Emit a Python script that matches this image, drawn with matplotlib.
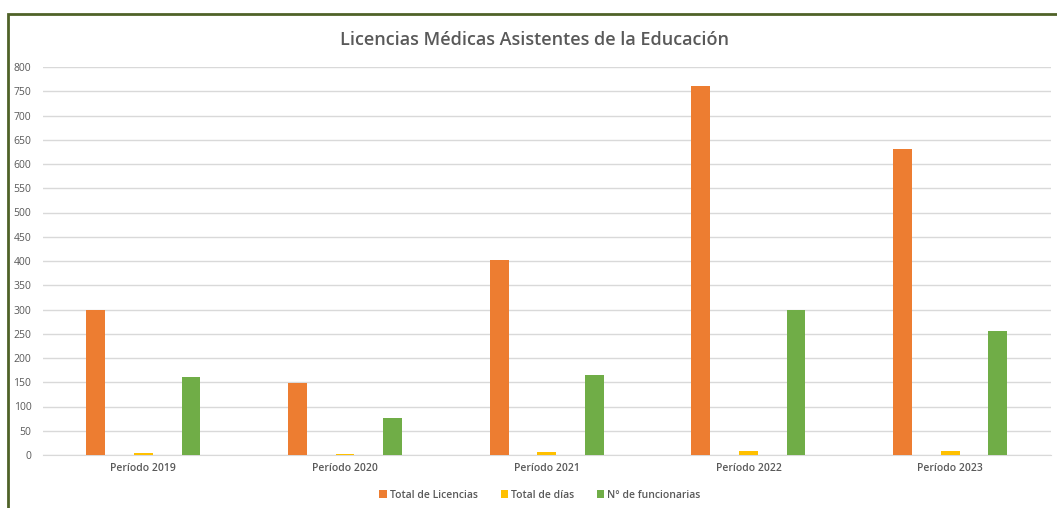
import matplotlib
matplotlib.use("Agg")
import matplotlib.pyplot as plt
from matplotlib.patches import Rectangle
import numpy as np

periodos = ["Período 2019", "Período 2020", "Período 2021", "Período 2022", "Período 2023"]
total_licencias = [300, 148, 402, 760, 631]
total_dias = [5, 2, 7, 9, 9]
n_funcionarias = [160, 76, 165, 300, 256]
series_names = ["Total de Licencias", "Total de días", "N° de funcionarias"]
colors = ["#ED7D31", "#FFC000", "#70AD47"]

plt.rcParams["font.family"] = ["Open Sans", "DejaVu Sans"]

fig = plt.figure(figsize=(10.57, 5.08), dpi=100)
ax = fig.add_axes([42.5 / 1057, 1 - 455 / 508, (1051 - 42.5) / 1057, (455 - 67) / 508])

x = np.arange(len(periodos))
offs = [-0.236, 0, 0.236]
w = 0.093
for vals, off, c, name in zip([total_licencias, total_dias, n_funcionarias], offs, colors, series_names):
    ax.bar(x + off, vals, w, color=c, label=name, zorder=3)

ax.set_xlim(-0.5, len(periodos) - 0.5)
ax.set_ylim(0, 800)
ax.set_yticks(range(0, 801, 50))
ax.grid(axis="y", color="#d9d9d9", linewidth=1, zorder=0)
for s in ["top", "right", "left"]:
    ax.spines[s].set_visible(False)
ax.spines["bottom"].set_color("#d9d9d9")
ax.tick_params(axis="both", length=0, labelsize=7.5, colors="#595959")
ax.tick_params(axis="y", pad=8)
ax.set_xticks(x)
ax.set_xticklabels(periodos, fontweight="semibold")
ax.tick_params(axis="x", pad=6)

fig.text(535 / 1057, 1 - 40 / 508, "Licencias Médicas Asistentes de la Educación",
         ha="center", va="center", fontsize=13, color="#595959", fontweight="semibold")

leg = fig.legend(loc="center", bbox_to_anchor=(540 / 1057, 1 - 495 / 508), ncol=3, frameon=False,
                 fontsize=7.5, handlelength=0.7, handleheight=0.7, handletextpad=0.3, columnspacing=2.2)
for t in leg.get_texts():
    t.set_color("#595959")
    t.set_fontweight("semibold")

fig.patches.append(Rectangle((8 / 1057, -0.1), 1.2, 1 - 14 / 508 + 0.1, transform=fig.transFigure,
                             fill=False, edgecolor="#4F6228", linewidth=2))

fig.savefig("out.png", dpi=100)
